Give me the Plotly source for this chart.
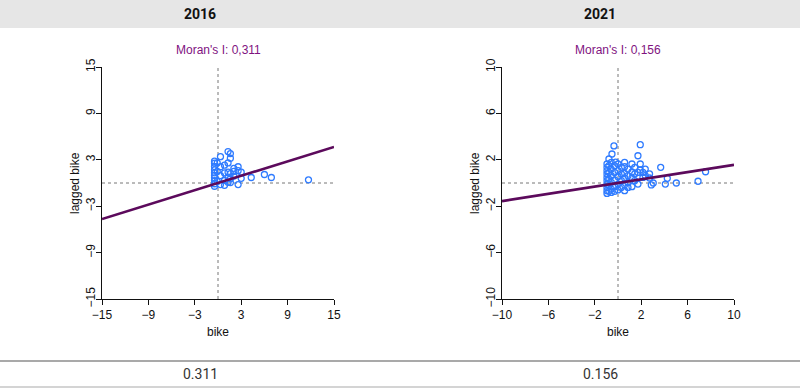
import plotly.graph_objects as go

W, H = 800, 388

years = ["2016", "2021"]
morans_i = [0.311, 0.156]
morans_i_label = ["0,311", "0,156"]
axis_limits = [15, 10]
tick_values = [[-15, -9, -3, 3, 9, 15], [-10, -6, -2, 2, 6, 10]]

x2016 = [-0.45, -0.45, -0.45, -0.45, -0.45, -0.45, -0.45, -0.45, -0.45, -0.45,
         -0.1, -0.1, -0.1,
         0.32, 0.32, 0.32, 0.32,
         0.84, 0.84, 0.84, 0.84,
         1.3, 1.3, 1.3, 1.3, 1.3,
         1.6, 1.6, 1.6, 1.6, 1.6,
         2.05, 2.05, 2.05,
         2.6, 2.6, 2.6,
         3.0, 3.0,
         4.3, 6.0, 6.9, 11.7]
y2016 = [2.82, 2.56, 2.13, 1.7, 1.32, 0.97, 0.67, 0.32, -0.1, -0.42,
         2.6, 1.5, 0.2,
         3.4, 2.1, 0.95, -0.2,
         2.3, 1.3, 0.35, -0.3,
         4.07, 2.6, 1.4, 0.75, 0.1,
         3.8, 3.2, 1.2, 0.55, 0.05,
         1.9, 1.5, 0.9,
         2.1, 1.6, -0.2,
         1.4, 0.6,
         0.71, 1.1, 0.71, 0.41]

x2021 = [-0.35, -0.52, -0.2,
         -0.95, -0.95, -0.95, -0.95, -0.95, -0.95, -0.95, -0.95, -0.95, -0.95,
         -0.78, -0.78, -0.78, -0.78, -0.78, -0.78,
         -0.58, -0.58, -0.58, -0.58, -0.58, -0.58,
         -0.29, -0.29, -0.29, -0.29, -0.29,
         0.0, 0.0, 0.0, 0.0, 0.0,
         0.29, 0.29, 0.29, 0.29,
         0.57, 0.57, 0.57, 0.57, 0.57, 0.57,
         0.86, 0.86, 0.86, 0.86,
         1.2, 1.2, 1.2, 1.2,
         1.44, 1.44, 1.44,
         1.72, 1.72, 1.72,
         1.92, 1.92, 1.92,
         2.15, 2.15,
         2.35, 2.35,
         2.72, 2.72,
         2.87, 3.04, 3.68, 4.08, 4.25, 5.03, 6.9, 7.55]
y2021 = [3.2, 2.5, 1.8,
         1.64, 1.35, 1.06, 0.78, 0.48, 0.2, -0.09, -0.38, -0.66, -0.9,
         2.07, 1.49, 0.91, 0.34, -0.23, -0.72,
         1.78, 1.2, 0.63, 0.05, -0.52, -0.81,
         1.49, 0.91, 0.26, -0.32, -0.72,
         1.64, 1.06, 0.54, -0.09, -0.6,
         1.35, 0.78, 0.2, -0.38,
         1.78, 1.41, 0.83, 0.43, -0.15, -0.66,
         1.2, 0.63, 0.05, -0.38,
         1.64, 0.95, 0.43, -0.32,
         1.35, 0.78, 0.2,
         2.35, 0.91, -0.09,
         3.3, 1.64, 1.12,
         0.91, 0.48,
         1.2, 0.63,
         0.78, 0.43,
         -0.17, 0.0, 1.35, -0.09, 0.4, 0.0, 0.15, 0.97]

xs = [x2016, x2021]
ys = [y2016, y2021]

# pixel layout of the two panels
panel_left_px = [102, 502]
panel_width_px = 232
panel_top_px = 67
panel_bottom_px = 299

def py(p):
    return 1 - p / H

def px(p):
    return p / W

PURPLE_LINE = "#5c0a5c"
PURPLE_TEXT = "#7f137f"
BLUE = "#2f7bff"
AXFONT = dict(family="Liberation Sans, Arial, sans-serif", size=12, color="#111")

def label(fig, x, y, text, font, angle=0):
    fig.add_annotation(x=x, y=y, xref="paper", yref="paper", text=text, showarrow=False,
                       xanchor="center", yanchor="middle", textangle=angle, font=font)

fig = go.Figure()

for i in range(2):
    xa = "x" if i == 0 else "x2"
    ya = "y" if i == 0 else "y2"
    lim = axis_limits[i]
    # regression line through the origin with slope = Moran's I
    lx = [-lim, lim]
    ly = [morans_i[i] * v for v in lx]
    fig.add_trace(go.Scatter(x=xs[i], y=ys[i], mode="markers", xaxis=xa, yaxis=ya,
                             marker=dict(symbol="circle-open", size=6, color=BLUE,
                                         line=dict(width=1.3, color=BLUE)),
                             showlegend=False, hoverinfo="skip"))
    fig.add_trace(go.Scatter(x=lx, y=ly, mode="lines", xaxis=xa, yaxis=ya,
                             line=dict(color=PURPLE_LINE, width=2.6),
                             showlegend=False, hoverinfo="skip"))
    axis_common = dict(range=[-lim, lim], tickvals=tick_values[i], showgrid=False,
                       zeroline=False, showline=True, linecolor="#111", linewidth=1,
                       ticks="outside", ticklen=5, tickcolor="#111", tickfont=AXFONT,
                       fixedrange=True, automargin=False)
    xdom = [px(panel_left_px[i]), px(panel_left_px[i] + panel_width_px)]
    ydom = [py(panel_bottom_px), py(panel_top_px)]
    key = "" if i == 0 else "2"
    fig.update_layout(**{
        "xaxis" + key: dict(domain=xdom, anchor=ya, **axis_common),
        "yaxis" + key: dict(domain=ydom, anchor=xa, tickangle=-90,
                            ticklabelstandoff=-4, **axis_common),
    })
    # dashed reference lines at zero
    fig.add_shape(type="line", xref=xa, yref=ya + " domain", x0=0, x1=0, y0=0, y1=1,
                  line=dict(color="#777", width=1, dash="3px,3px"), layer="below")
    fig.add_shape(type="line", xref=xa + " domain", yref=ya, x0=0, x1=1, y0=0, y1=0,
                  line=dict(color="#777", width=1, dash="3px,3px"), layer="below")
    cx = px(panel_left_px[i] + panel_width_px / 2)
    label(fig, cx, py(50), "Moran's I: " + morans_i_label[i],
          dict(family="Liberation Sans, Arial, sans-serif", size=12, color=PURPLE_TEXT))
    label(fig, cx, py(332), "bike", AXFONT)
    label(fig, px(panel_left_px[i] - 27), py(183), "lagged bike", AXFONT, angle=-90)
    # table header and value row
    colx = px(200 + 400 * i)
    label(fig, colx, py(14), "<b>" + years[i] + "</b>",
          dict(family="Roboto, sans-serif", size=14, color="#111"))
    label(fig, colx, py(374), f"{morans_i[i]:.3f}",
          dict(family="Roboto, sans-serif", size=14, color="#333"))

# header background and table rules
fig.add_shape(type="rect", xref="paper", yref="paper", x0=0, x1=1, y0=py(28), y1=1,
              fillcolor="#e6e6e6", line=dict(width=0), layer="below")
fig.add_shape(type="line", xref="paper", yref="paper", x0=0, x1=1, y0=py(361), y1=py(361),
              line=dict(color="#555", width=1.2))
fig.add_shape(type="line", xref="paper", yref="paper", x0=0, x1=1, y0=py(387), y1=py(387),
              line=dict(color="#aaa", width=1.2))

fig.update_layout(width=W, height=H,
                  margin=dict(l=0, r=0, t=0, b=0, pad=0, autoexpand=False),
                  paper_bgcolor="white", plot_bgcolor="white", showlegend=False)

fig.write_html("out.html", config={"displayModeBar": False},
               post_script="document.documentElement.style.margin='0';"
                           "document.body.style.margin='0';"
                           "document.body.style.overflow='hidden';")
